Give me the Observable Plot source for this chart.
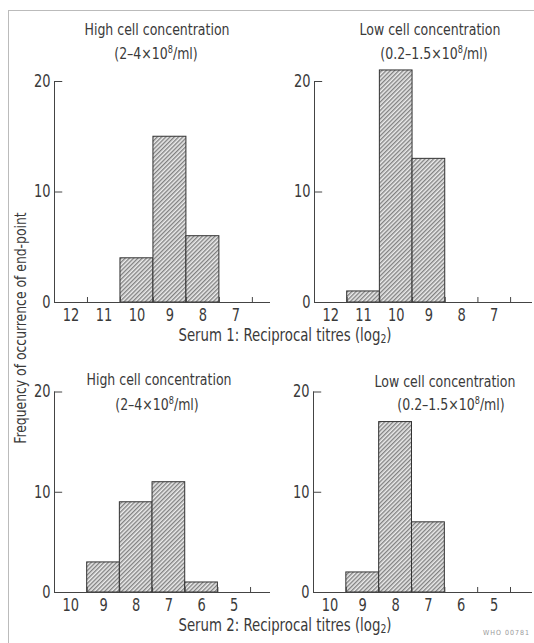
<!DOCTYPE html>
<html><head><meta charset="utf-8">
<script src="https://cdn.jsdelivr.net/npm/d3@7"></script>
<script src="https://cdn.jsdelivr.net/npm/@observablehq/plot@0.6"></script>
<style>
body{margin:0;background:#fff}
#root{position:relative;width:534px;height:643px;overflow:hidden;font-family:"Liberation Sans Narrow","DejaVu Sans Condensed","Roboto Condensed",sans-serif;color:#3a3a3a}
.t{position:absolute;white-space:nowrap;transform:translate(-50%,-50%) scaleX(0.87);font-size:16px;line-height:1}
.s{font-size:17px}
.frame{position:absolute;left:8px;top:10px;width:540px;height:640px;border-left:1px solid #bbb;border-top:1px solid #bbb}
.p{position:absolute}
sup{font-size:0.65em;vertical-align:0.55em;line-height:0}
sub{font-size:0.7em;vertical-align:-0.25em;line-height:0}
.ylab{position:absolute;left:20px;top:328px;transform:translate(-50%,-50%) rotate(-90deg) scaleX(0.86);white-space:nowrap;font-size:16px}
.who{position:absolute;left:483px;top:629px;font-size:7px;color:#999;letter-spacing:1px}
</style></head>
<body>
<svg width="0" height="0" style="position:absolute">
<defs>
<pattern id="hatch" patternUnits="userSpaceOnUse" width="3" height="3" patternTransform="rotate(45)">
<rect width="3" height="3" fill="#ececec"/>
<line x1="0.75" y1="0" x2="0.75" y2="3" stroke="#666" stroke-width="1.1"/>
</pattern>
</defs>
</svg>
<div id="root">
<div class="frame"></div>
<div class="t" style="left:157px;top:30px">High cell concentration</div>
<div class="t" style="left:156px;top:54px">(2–4×10<sup>8</sup>/ml)</div>
<div class="t" style="left:430px;top:30px">Low cell concentration</div>
<div class="t" style="left:434px;top:54px">(0.2–1.5×10<sup>8</sup>/ml)</div>
<div class="t" style="left:159px;top:380px">High cell concentration</div>
<div class="t" style="left:157px;top:405px">(2–4×10<sup>8</sup>/ml)</div>
<div class="t" style="left:445px;top:382px">Low cell concentration</div>
<div class="t" style="left:451px;top:405px">(0.2–1.5×10<sup>8</sup>/ml)</div>
<div class="t s" style="left:285px;top:335px">Serum 1: Reciprocal titres (log<sub>2</sub>)</div>
<div class="t s" style="left:285px;top:625px">Serum 2: Reciprocal titres (log<sub>2</sub>)</div>
<div class="ylab">Frequency of occurrence of end-point</div>
<div class="who">WHO 00781</div>
<div class="p" id="tl" style="left:0px;top:60px;width:275px"></div>
<div class="p" id="tr" style="left:260px;top:60px;width:274px"></div>
<div class="p" id="bl" style="left:0px;top:360px;width:275px"></div>
<div class="p" id="br" style="left:259px;top:360px;width:275px"></div>
</div>
<script>
// Data
const serum1Titres = [12, 11, 10, 9, 8, 7];
const serum2Titres = [10, 9, 8, 7, 6, 5];
const serum1High = [0, 0, 4, 15, 6, 0];
const serum1Low  = [0, 1, 21, 13, 0, 0];
const serum2High = [0, 3, 9, 11, 1, 0];
const serum2Low  = [0, 2, 17, 7, 0, 0];
const yTicks = [0, 10, 20];
const yInnerTicks = [10, 20];

const FONT = '"Liberation Sans Narrow","DejaVu Sans Condensed","Roboto Condensed",sans-serif';

function panel(el, titres, counts, opts) {
  const data = titres.map((t, i) => ({t, n: counts[i]})).filter(d => d.n > 0);
  const edges = titres.map(t => t - 0.5);
  const x0 = opts.xDomain[0], x1 = opts.xDomain[1];
  const chart = Plot.plot({
    width: opts.width, height: opts.height,
    marginLeft: opts.ml, marginRight: opts.mr, marginTop: opts.mt, marginBottom: opts.mb,
    x: {domain: opts.xDomain},
    y: {domain: [0, 20]},
    style: {fontFamily: FONT, fontSize: "17px", color: "#3a3a3a", background: "transparent", overflow: "visible"},
    marks: [
      Plot.rect(data, {x1: d => d.t + 0.5, x2: d => d.t - 0.5, y1: 0, y2: "n", fill: "url(#hatch)", stroke: "#333", strokeWidth: 1}),
      Plot.ruleY([0], {x1: x0, x2: x1, stroke: "#444", strokeWidth: 1}),
      Plot.ruleX([x0], {y1: 0, y2: 20, stroke: "#444", strokeWidth: 1}),
      Plot.ruleY(yInnerTicks, {x1: x0, x2: x0 - 0.25, stroke: "#444", strokeWidth: 1}),
      Plot.ruleX(edges, {y1: 0, y2: opts.edgeTick, stroke: "#444", strokeWidth: 1}),
      Plot.axisX({ticks: titres, tickSize: 0, tickPadding: 6, tickFormat: d => String(d), fontSize: 17, label: null}),
      Plot.axisY({ticks: yTicks, tickSize: 0, tickPadding: 4, fontSize: 17, anchor: "left", label: null})
    ]
  });
  // condense tick label glyphs like the original typeface
  d3.select(chart).selectAll("g[aria-label$='tick label'] text").each(function() {
    const tr = this.getAttribute("transform") || "";
    this.setAttribute("transform", tr + " scale(0.85,1)");
  });
  document.getElementById(el).append(chart);
}

panel("tl", serum1Titres, serum1High, {width: 275, height: 275, ml: 54, mr: 5, mt: 21, mb: 33, xDomain: [12.5, 5.95], edgeTick: 0.45});
panel("tr", serum1Titres, serum1Low,  {width: 274, height: 275, ml: 54, mr: 2, mt: 21, mb: 33, xDomain: [12.5, 5.83], edgeTick: 0.45});
panel("bl", serum2Titres, serum2High, {width: 275, height: 275, ml: 54, mr: 5, mt: 31.5, mb: 43, xDomain: [10.5, 3.89], edgeTick: 0.5});
panel("br", serum2Titres, serum2Low,  {width: 275, height: 275, ml: 54, mr: 2, mt: 31.5, mb: 43, xDomain: [10.5, 3.83], edgeTick: 0.5});
</script>
</body></html>
